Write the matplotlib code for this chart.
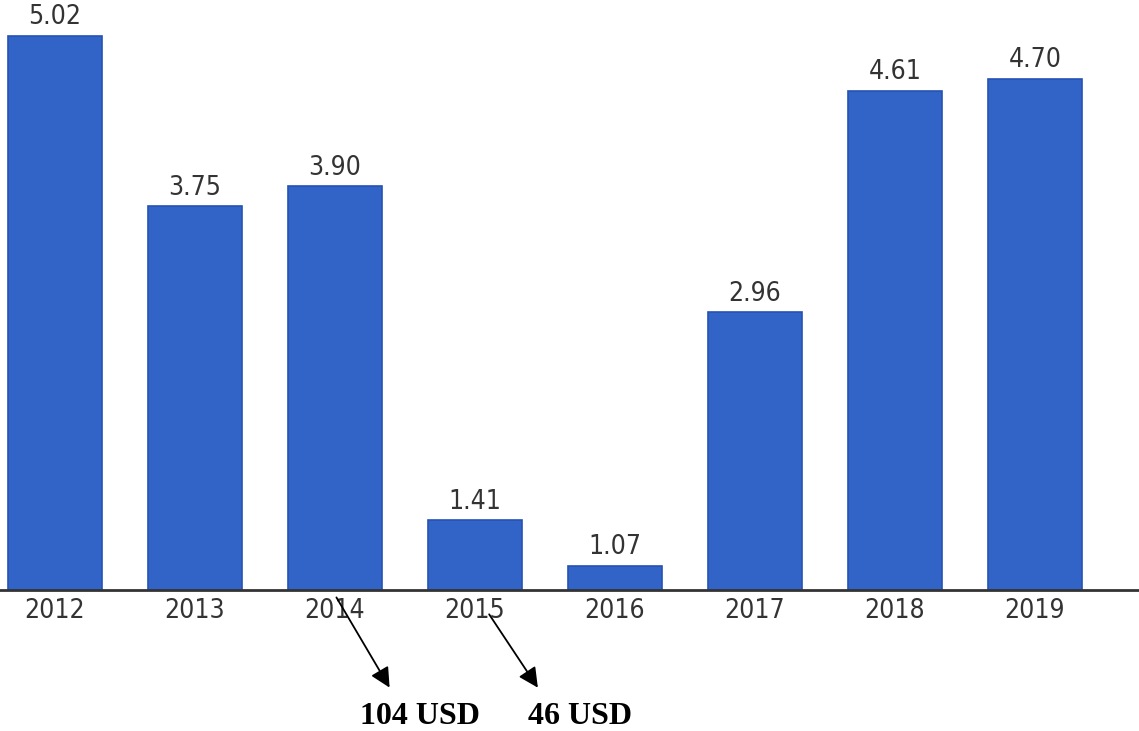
import matplotlib.pyplot as plt
import numpy as np

# Data
years = ['2012', '2013', '2014', '2015', '2016', '2017', '2018', '2019']
values = [5.02, 3.75, 3.90, 1.41, 1.07, 2.96, 4.61, 4.70]
value_labels = ['5.02', '3.75', '3.90', '1.41', '1.07', '2.96', '4.61', '4.70']
notes = ['104 USD', '46 USD']

narrow = ['Liberation Sans Narrow', 'DejaVu Sans']

fig = plt.figure(figsize=(11.39, 7.31), dpi=100)
ax = fig.add_axes([0, (731 - 590) / 731, 1, 590 / 731])

x = np.arange(len(years))
ax.bar(x, values, width=0.67, bottom=0, color='#3264c8', edgecolor='#2453b4', linewidth=1.2)

# value labels above bars
for i, v in enumerate(values):
    ax.text(i, v + 0.04, value_labels[i], ha='center', va='bottom',
            fontsize=19, color='#333333', family=narrow, fontstretch='condensed')

ax.set_xlim(-0.393, 7.743)
ax.set_ylim(0.89, 5.286)
ax.set_xticks(x)
ax.set_xticklabels(years, fontsize=19, color='#333333', family=narrow, fontstretch='condensed')
ax.tick_params(axis='x', length=0, pad=6)
ax.set_yticks([])
for s in ['top', 'right', 'left']:
    ax.spines[s].set_visible(False)
ax.spines['bottom'].set_linewidth(2)
ax.spines['bottom'].set_color('#333333')

# arrows below the axis (x in data, y in axes fraction)
def yf(px):
    return (590 - px) / 590

ax.annotate('', xy=(2.4, yf(690)), xytext=(2.0, yf(595)),
            xycoords=('data', 'axes fraction'), textcoords=('data', 'axes fraction'),
            arrowprops=dict(arrowstyle='-|>', color='black', lw=1.3, mutation_scale=30),
            annotation_clip=False)
ax.annotate('', xy=(3.46, yf(690)), xytext=(3.09, yf(612)),
            xycoords=('data', 'axes fraction'), textcoords=('data', 'axes fraction'),
            arrowprops=dict(arrowstyle='-|>', color='black', lw=1.3, mutation_scale=30),
            annotation_clip=False)

ax.text(2.61, yf(716), notes[0], ha='center', va='center', fontsize=23,
        fontweight='bold', family='Liberation Serif', transform=ax.get_xaxis_transform(),
        clip_on=False)
ax.text(3.75, yf(716), notes[1], ha='center', va='center', fontsize=23,
        fontweight='bold', family='Liberation Serif', transform=ax.get_xaxis_transform(),
        clip_on=False)

fig.savefig('out.png', dpi=100)
